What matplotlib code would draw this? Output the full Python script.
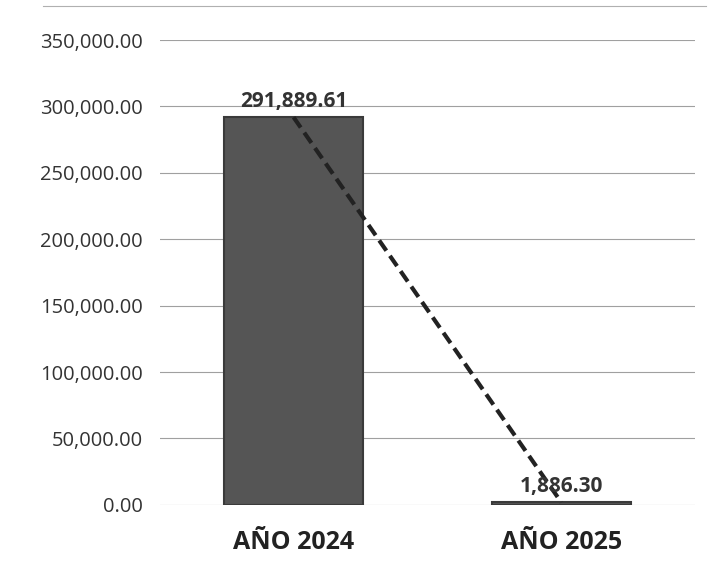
import matplotlib.pyplot as plt
import numpy as np

# datos del grafico
categorias = ["AÑO 2024", "AÑO 2025"]
valores = [291889.61, 1886.30]
etiquetas = ["291,889.61", "1,886.30"]
ticks_y = [0, 50000, 100000, 150000, 200000, 250000, 300000, 350000]

plt.rcParams['font.family'] = ['Open Sans', 'DejaVu Sans']

fig = plt.figure(figsize=(7.13, 5.73), dpi=100)
ax = fig.add_axes([0.224, 0.119, 0.751, 0.811])

x = np.arange(len(categorias))
ax.bar(x, valores, width=0.52, color='#555555', edgecolor='#3a3a3a', linewidth=1.5, zorder=2)

# linea de tendencia
ax.plot(x, valores, linestyle=(0, (3, 1.5)), color='#222222', linewidth=3, zorder=3)

for xi, v, t in zip(x, valores, etiquetas):
    ax.text(xi, v + 4000, t, ha='center', va='bottom', fontsize=15,
            fontweight='bold', color='#333333', zorder=4)

ax.set_xlim(-0.5, 1.5)
ax.set_ylim(0, 350000)
ax.set_yticks(ticks_y)
ax.set_yticklabels([f"{t:,.2f}" for t in ticks_y], fontsize=14.5, color='#333333')
ax.set_xticks(x)
ax.set_xticklabels(categorias, fontsize=18, fontweight='bold', color='#222222')
ax.tick_params(length=0, pad=12)
ax.tick_params(axis='x', pad=18)

ax.yaxis.grid(True, color='#a0a0a0', linewidth=0.8, zorder=0)
for s in ax.spines.values():
    s.set_visible(False)

# borde superior del area del grafico
fig.add_artist(plt.Line2D([0.06, 0.99], [0.99, 0.99], color='#b0b0b0', linewidth=0.8))

fig.savefig("out.png", dpi=100)
